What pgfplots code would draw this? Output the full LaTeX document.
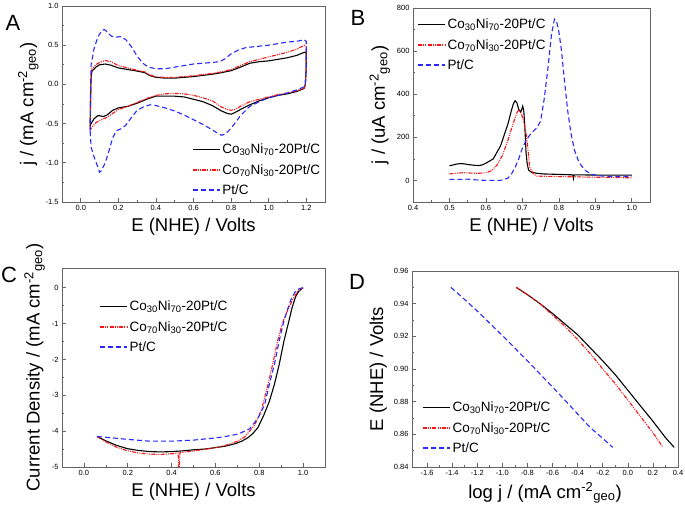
\documentclass[border=0pt]{standalone}
\usepackage{fontspec}
\setmainfont{Liberation Sans}
\usepackage{pgfplots}
\pgfplotsset{compat=1.18}
\definecolor{frame}{RGB}{100,100,100}
\definecolor{myred}{RGB}{250,20,20}
\definecolor{myblue}{RGB}{40,40,250}
\pgfplotsset{
  s1/.style={draw=black, line width=1.1pt, solid},
  s2/.style={draw=myred, line width=1.1pt, dash pattern=on 4pt off 1.2pt on 1pt off 1.2pt on 1pt off 1.2pt},
  s3/.style={draw=myblue, line width=1.1pt, dash pattern=on 5pt off 3pt},
  panel/.style={
    scale only axis, anchor=south west,
    axis line style={frame, line width=0.8pt},
    tick align=inside, xtick pos=left, ytick pos=left,
    minor tick num=1,
    major tick length=4pt, minor tick length=2pt,
    tick style={frame, line width=0.6pt},
    tick label style={font=\fontsize{7.5}{8}\selectfont},
    label style={font=\fontsize{18.5}{20}\selectfont},
    /pgf/number format/assume math mode=true,
    legend cell align=left,
    legend image code/.code={\draw[##1, line width=1.5pt] (0pt,0pt) -- (27pt,0pt);},
    legend style={draw=none, fill=none, font=\fontsize{13.5}{15}\selectfont, row sep=5pt, inner sep=0pt},
  },
  legendbox/.style={panel, hide axis, width=140pt, height=200pt, xmin=0, xmax=1, ymin=0, ymax=1,
    legend style={at={(0,0)}, anchor=south west}},
}
\newcommand{\geo}{cm\textsuperscript{-2}\textsubscript{geo}}
\newcommand{\la}{Co\textsubscript{30}Ni\textsubscript{70}-20Pt/C}
\newcommand{\lb}{Co\textsubscript{70}Ni\textsubscript{30}-20Pt/C}
\begin{document}
\begin{tikzpicture}
\useasboundingbox (0pt,0pt) rectangle (685pt,511pt);
% ---------------- A
\begin{axis}[panel, at={(62pt,309pt)}, width=263pt, height=196pt,
  xmin=-0.1, xmax=1.3, ymin=-1.5, ymax=1.0,
  xtick={0,0.2,0.4,0.6,0.8,1.0,1.2}, ytick={-1.5,-1.0,-0.5,0,0.5,1.0},
  xticklabel style={/pgf/number format/.cd, fixed, fixed zerofill, precision=1},
  yticklabel style={/pgf/number format/.cd, fixed, fixed zerofill, precision=1},
  xlabel={E (NHE) / Volts}, ylabel={j / (mA \geo)},
  legend style={at={(0.99,0.02)}, anchor=south east}]
\addplot[s1] coordinates {(0.050,-0.53) (0.052,-0.2) (0.055,0.10) (0.06,0.17) (0.08,0.22) (0.10,0.25) (0.13,0.26) (0.16,0.245) (0.20,0.21) (0.25,0.19) (0.30,0.17) (0.34,0.15) (0.37,0.11) (0.40,0.09) (0.45,0.08) (0.50,0.08) (0.55,0.09) (0.60,0.10) (0.65,0.115) (0.70,0.13) (0.75,0.15) (0.80,0.175) (0.85,0.22) (0.90,0.27) (0.95,0.29) (1.00,0.30) (1.05,0.32) (1.10,0.34) (1.15,0.37) (1.19,0.41) (1.20,0.40) (1.20,0.20) (1.195,0.0) (1.19,-0.05) (1.15,-0.09) (1.10,-0.12) (1.05,-0.14) (1.00,-0.17) (0.95,-0.21) (0.90,-0.26) (0.85,-0.32) (0.82,-0.36) (0.80,-0.38) (0.78,-0.37) (0.75,-0.34) (0.70,-0.27) (0.65,-0.22) (0.60,-0.19) (0.55,-0.16) (0.50,-0.15) (0.45,-0.15) (0.40,-0.15) (0.35,-0.19) (0.30,-0.24) (0.25,-0.28) (0.20,-0.30) (0.17,-0.33) (0.14,-0.39) (0.12,-0.41) (0.10,-0.40) (0.09,-0.40) (0.07,-0.44) (0.055,-0.50) (0.05,-0.53)};
\addlegendentry{\la}
\addplot[s2] coordinates {(0.050,-0.58) (0.052,-0.2) (0.055,0.12) (0.06,0.20) (0.08,0.25) (0.10,0.28) (0.13,0.305) (0.16,0.29) (0.20,0.24) (0.25,0.21) (0.30,0.18) (0.34,0.16) (0.37,0.12) (0.40,0.095) (0.45,0.09) (0.50,0.09) (0.55,0.10) (0.60,0.11) (0.65,0.125) (0.70,0.14) (0.75,0.16) (0.80,0.19) (0.85,0.24) (0.90,0.29) (0.95,0.32) (1.00,0.35) (1.05,0.38) (1.10,0.41) (1.15,0.45) (1.19,0.50) (1.20,0.48) (1.20,0.20) (1.195,0.0) (1.19,-0.05) (1.15,-0.08) (1.10,-0.11) (1.05,-0.13) (1.00,-0.16) (0.95,-0.19) (0.90,-0.22) (0.85,-0.28) (0.82,-0.32) (0.80,-0.33) (0.78,-0.32) (0.75,-0.29) (0.70,-0.21) (0.65,-0.17) (0.60,-0.14) (0.55,-0.12) (0.50,-0.115) (0.45,-0.12) (0.40,-0.14) (0.35,-0.18) (0.30,-0.23) (0.25,-0.28) (0.20,-0.32) (0.17,-0.37) (0.14,-0.42) (0.12,-0.44) (0.10,-0.46) (0.08,-0.49) (0.065,-0.53) (0.05,-0.58)};
\addlegendentry{\lb}
\addplot[s3] coordinates {(0.05,-0.60) (0.052,-0.1) (0.055,0.25) (0.07,0.45) (0.09,0.60) (0.11,0.68) (0.125,0.70) (0.14,0.67) (0.16,0.62) (0.18,0.60) (0.21,0.61) (0.24,0.57) (0.27,0.48) (0.30,0.36) (0.33,0.27) (0.36,0.22) (0.40,0.20) (0.45,0.20) (0.50,0.22) (0.55,0.24) (0.60,0.26) (0.65,0.27) (0.70,0.28) (0.74,0.29) (0.77,0.33) (0.80,0.39) (0.84,0.44) (0.88,0.47) (0.92,0.48) (1.00,0.50) (1.05,0.52) (1.10,0.54) (1.15,0.55) (1.19,0.57) (1.20,0.55) (1.20,0.2) (1.195,-0.01) (1.19,-0.03) (1.15,-0.07) (1.10,-0.11) (1.05,-0.14) (1.00,-0.17) (0.95,-0.22) (0.90,-0.28) (0.85,-0.40) (0.80,-0.56) (0.77,-0.63) (0.75,-0.65) (0.72,-0.61) (0.70,-0.58) (0.65,-0.51) (0.60,-0.45) (0.55,-0.39) (0.50,-0.34) (0.45,-0.30) (0.40,-0.27) (0.37,-0.26) (0.34,-0.28) (0.30,-0.33) (0.27,-0.42) (0.24,-0.52) (0.22,-0.56) (0.19,-0.59) (0.17,-0.68) (0.15,-0.85) (0.13,-1.00) (0.11,-1.10) (0.10,-1.12) (0.09,-1.05) (0.07,-0.92) (0.055,-0.80) (0.05,-0.60)};
\addlegendentry{Pt/C}
\end{axis}
% ---------------- B
\begin{axis}[panel, at={(413pt,309pt)}, width=237pt, height=194pt,
  xmin=0.4, xmax=1.05, ymin=-100, ymax=800,
  xtick={0.4,0.5,0.6,0.7,0.8,0.9,1.0}, ytick={0,200,400,600,800},
  xticklabel style={/pgf/number format/.cd, fixed, fixed zerofill, precision=1},
  xlabel={E (NHE) / Volts}, ylabel={j / (uA \geo)}]
\addplot[s1] coordinates {(0.500,68) (0.510,72) (0.520,76) (0.530,78) (0.540,77) (0.550,74) (0.560,72) (0.570,70) (0.580,69) (0.590,72) (0.600,80) (0.610,90) (0.620,100) (0.630,130) (0.640,160) (0.650,210) (0.660,260) (0.670,325) (0.675,355) (0.680,370) (0.685,360) (0.690,330) (0.695,318) (0.698,328) (0.701,345) (0.704,320) (0.707,240) (0.710,130) (0.713,80) (0.717,48) (0.725,38) (0.740,33) (0.760,30) (0.800,28) (0.838,26) (0.840,8) (0.842,26) (0.900,25) (0.950,25) (1.000,25)};
\addplot[s2] coordinates {(0.500,30) (0.520,34) (0.540,36) (0.560,34) (0.580,33) (0.600,36) (0.615,45) (0.630,70) (0.645,115) (0.660,185) (0.675,265) (0.685,315) (0.690,327) (0.695,318) (0.700,296) (0.705,262) (0.710,220) (0.715,150) (0.720,63) (0.730,30) (0.740,20) (0.800,18) (0.900,15) (1.000,12)};
\addplot[s3] coordinates {(0.500,5) (0.530,5) (0.550,6) (0.570,3) (0.600,0) (0.640,0) (0.660,10) (0.670,30) (0.680,60) (0.690,100) (0.700,150) (0.710,185) (0.720,210) (0.730,228) (0.740,245) (0.750,275) (0.760,380) (0.770,520) (0.780,680) (0.788,748) (0.795,730) (0.800,690) (0.807,606) (0.815,470) (0.824,327) (0.833,220) (0.843,140) (0.855,85) (0.871,48) (0.890,28) (0.920,20) (0.960,18) (1.000,20)};
\end{axis}
\begin{axis}[legendbox, at={(417pt,438pt)}]
\addlegendimage{s1}\addlegendentry{\la}
\addlegendimage{s2}\addlegendentry{\lb}
\addlegendimage{s3}\addlegendentry{Pt/C}
\end{axis}
% ---------------- C
\begin{axis}[panel, at={(62pt,44pt)}, width=263pt, height=199pt,
  xmin=-0.1, xmax=1.1, ymin=-5, ymax=0.55,
  xtick={0,0.2,0.4,0.6,0.8,1.0}, ytick={-5,-4,-3,-2,-1,0},
  xticklabel style={/pgf/number format/.cd, fixed, fixed zerofill, precision=1},
  xlabel={E (NHE) / Volts}, ylabel={Current Density / (mA \geo)}]
\addplot[s1] coordinates {(0.06,-4.15) (0.10,-4.27) (0.15,-4.40) (0.20,-4.49) (0.25,-4.54) (0.30,-4.57) (0.35,-4.58) (0.40,-4.57) (0.45,-4.55) (0.50,-4.52) (0.55,-4.50) (0.60,-4.46) (0.645,-4.42) (0.69,-4.35) (0.72,-4.28) (0.749,-4.18) (0.77,-4.07) (0.794,-3.90) (0.821,-3.55) (0.846,-3.17) (0.869,-2.70) (0.891,-2.14) (0.913,-1.48) (0.936,-0.91) (0.95,-0.55) (0.966,-0.25) (0.98,-0.10) (1.00,0.00)};
\addplot[s2] coordinates {(0.06,-4.15) (0.10,-4.30) (0.15,-4.45) (0.20,-4.55) (0.25,-4.61) (0.30,-4.64) (0.35,-4.65) (0.40,-4.63) (0.43,-4.61) (0.434,-5.2) (0.438,-4.60) (0.50,-4.55) (0.55,-4.51) (0.60,-4.46) (0.645,-4.40) (0.70,-4.28) (0.734,-4.16) (0.779,-3.83) (0.81,-3.41) (0.836,-2.80) (0.861,-2.14) (0.884,-1.48) (0.905,-1.00) (0.921,-0.75) (0.951,-0.35) (0.975,-0.10) (1.00,0.00)};
\addplot[s3] coordinates {(0.06,-4.15) (0.10,-4.17) (0.20,-4.23) (0.30,-4.28) (0.40,-4.28) (0.50,-4.25) (0.60,-4.19) (0.645,-4.15) (0.705,-4.08) (0.757,-3.93) (0.794,-3.64) (0.824,-3.27) (0.846,-2.70) (0.869,-2.14) (0.891,-1.48) (0.913,-0.91) (0.943,-0.35) (0.966,-0.09) (0.985,-0.02) (1.00,0.00)};
\end{axis}
\begin{axis}[legendbox, at={(99pt,156pt)}]
\addlegendimage{s1}\addlegendentry{\la}
\addlegendimage{s2}\addlegendentry{\lb}
\addlegendimage{s3}\addlegendentry{Pt/C}
\end{axis}
% ---------------- D
\begin{axis}[panel, at={(412pt,44pt)}, width=266pt, height=196pt,
  xmin=-1.72, xmax=0.4, ymin=0.84, ymax=0.96,
  xtick={-1.6,-1.4,-1.2,-1.0,-0.8,-0.6,-0.4,-0.2,0,0.2,0.4},
  ytick={0.84,0.86,0.88,0.90,0.92,0.94,0.96},
  xticklabel style={/pgf/number format/.cd, fixed, fixed zerofill, precision=1},
  yticklabel style={/pgf/number format/.cd, fixed, fixed zerofill, precision=2},
  xlabel={log j / (mA \geo)}, ylabel={E (NHE) / Volts},
  legend style={at={(0.037,0.056)}, anchor=south west}]
\addplot[s1] coordinates {(-0.89,0.950) (-0.80,0.9455) (-0.70,0.940) (-0.60,0.934) (-0.50,0.9275) (-0.40,0.921) (-0.30,0.913) (-0.20,0.905) (-0.10,0.8965) (0.00,0.887) (0.10,0.8775) (0.20,0.868) (0.30,0.858) (0.37,0.852)};
\addlegendentry{\la}
\addplot[s2] coordinates {(-0.89,0.950) (-0.80,0.9455) (-0.70,0.940) (-0.60,0.933) (-0.50,0.926) (-0.40,0.918) (-0.30,0.9095) (-0.20,0.900) (-0.10,0.891) (0.00,0.881) (0.10,0.871) (0.20,0.861) (0.28,0.852)};
\addlegendentry{\lb}
\addplot[s3] coordinates {(-1.41,0.950) (-1.30,0.9425) (-1.20,0.9355) (-1.10,0.928) (-1.00,0.9205) (-0.90,0.9128) (-0.80,0.905) (-0.70,0.897) (-0.60,0.889) (-0.50,0.8808) (-0.40,0.8725) (-0.30,0.8642) (-0.20,0.8575) (-0.12,0.852)};
\addlegendentry{Pt/C}
\end{axis}
% panel letters
\node[font=\fontsize{22}{24}\selectfont] at (13pt,488pt) {A};
\node[font=\fontsize{22}{24}\selectfont] at (358pt,493pt) {B};
\node[font=\fontsize{22}{24}\selectfont] at (9pt,236pt) {C};
\node[font=\fontsize{22}{24}\selectfont] at (357pt,229pt) {D};
\end{tikzpicture}
\end{document}
